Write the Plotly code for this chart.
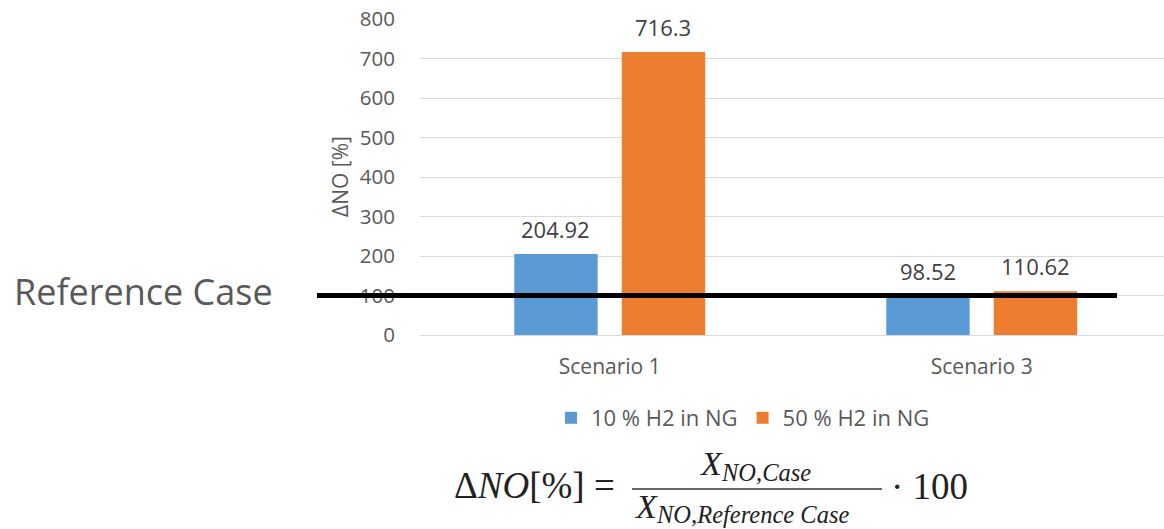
import plotly.graph_objects as go

categories = ["Scenario 1", "Scenario 3"]
series_names = ["10 % H2 in NG", "50 % H2 in NG"]
values_10 = [204.92, 98.52]
values_50 = [716.3, 110.62]
label_10 = ["204.92", "98.52"]
label_50 = ["716.3", "110.62"]
y_ticks = [0, 100, 200, 300, 400, 500, 600, 700, 800]
REF_VALUE = 100

colors = ["#5B9BD5", "#ED7D31"]
W, H = 1164, 529
L, R, T, B = 420, 0, 19, 194
PW = W - L - R
PH = H - T - B
XR = [-0.51, 1.49]
BARGAP = 0.422
GROUPGAP = 0.224
px_per_unit = PW / (XR[1] - XR[0])
slot_px = (1 - BARGAP) / 2 * px_per_unit

def px(xp):
    return (xp - L) / PW

def py(yp):
    return (H - B - yp) / PH

GRAY = "#595959"
FONT = "Open Sans"
MATH = "Liberation Serif"
INK = "#222222"

fig = go.Figure()
for name, vals, col in [(series_names[0], values_10, colors[0]),
                        (series_names[1], values_50, colors[1])]:
    fig.add_trace(go.Bar(x=categories, y=vals, name=name, marker_color=col,
                         marker_line_width=0))

annotations = []
for vals, labs, sign in [(values_10, label_10, -1), (values_50, label_50, 1)]:
    for c, v, t in zip(categories, vals, labs):
        annotations.append(dict(x=c, y=v, text=t, showarrow=False,
                                xshift=sign * slot_px / 2, yshift=25,
                                font=dict(family=FONT, size=22, color="#404040"),
                                xanchor="center", yanchor="middle"))

# y axis title
annotations.append(dict(xref="paper", yref="paper", x=px(340), y=py(177),
                        text="ΔNO [%]", textangle=-90, showarrow=False,
                        font=dict(family=FONT, size=21, color=GRAY),
                        xanchor="center", yanchor="middle"))
# Reference case label
annotations.append(dict(xref="paper", yref="paper", x=px(12), y=py(291),
                        text="Reference Case", showarrow=False,
                        font=dict(family=FONT, size=36, color=GRAY),
                        xanchor="left", yanchor="middle"))
# Formula
def math_ann(x, y, text, size, anchor="left"):
    return dict(xref="paper", yref="paper", x=px(x), y=py(y), text=text,
                showarrow=False, font=dict(family=MATH, size=size, color=INK),
                xanchor=anchor, yanchor="middle")

annotations.append(math_ann(617, 486, "Δ<i>NO</i>[%] =", 37, "right"))
annotations.append(math_ann(697, 463, "<i>X</i>", 34))
annotations.append(math_ann(719, 472, "<i>NO,Case</i>", 24.5))
annotations.append(math_ann(632, 506, "<i>X</i>", 34))
annotations.append(math_ann(654, 514, "<i>NO,Reference Case</i>", 24.5))
annotations.append(math_ann(889, 487, "· 100", 37))

shapes = [
    dict(type="line", xref="paper", yref="y", x0=px(317), x1=px(1117),
         y0=REF_VALUE, y1=REF_VALUE, line=dict(color="black", width=5)),
    dict(type="line", xref="paper", yref="paper", x0=px(632), x1=px(882),
         y0=py(489), y1=py(489), line=dict(color="#333333", width=1.5)),
]

fig.update_layout(
    width=W, height=H,
    margin=dict(l=L, r=R, t=T, b=B, autoexpand=False),
    paper_bgcolor="white", plot_bgcolor="white",
    barmode="group", bargap=BARGAP, bargroupgap=GROUPGAP,
    showlegend=True,
    legend=dict(orientation="h", x=px(743), y=py(418), xanchor="center",
                yanchor="middle", font=dict(family=FONT, size=22, color=GRAY),
                itemwidth=30, traceorder="normal"),
    annotations=annotations, shapes=shapes,
    font=dict(family=FONT, color=GRAY),
)
fig.update_xaxes(type="category", range=XR, showgrid=False, showline=False,
                 ticks="", tickfont=dict(family=FONT, size=21, color=GRAY),
                 ticklabelstandoff=17, fixedrange=True)
fig.update_yaxes(range=[0, 800], tickvals=y_ticks, showgrid=True,
                 gridcolor="#D9D9D9", gridwidth=1, zeroline=True,
                 zerolinecolor="#D9D9D9", zerolinewidth=1, showline=False,
                 ticks="", tickfont=dict(family=FONT, size=20.5, color=GRAY),
                 ticklabelstandoff=24, fixedrange=True)

fig.write_html("out.html", config={"displayModeBar": False})
